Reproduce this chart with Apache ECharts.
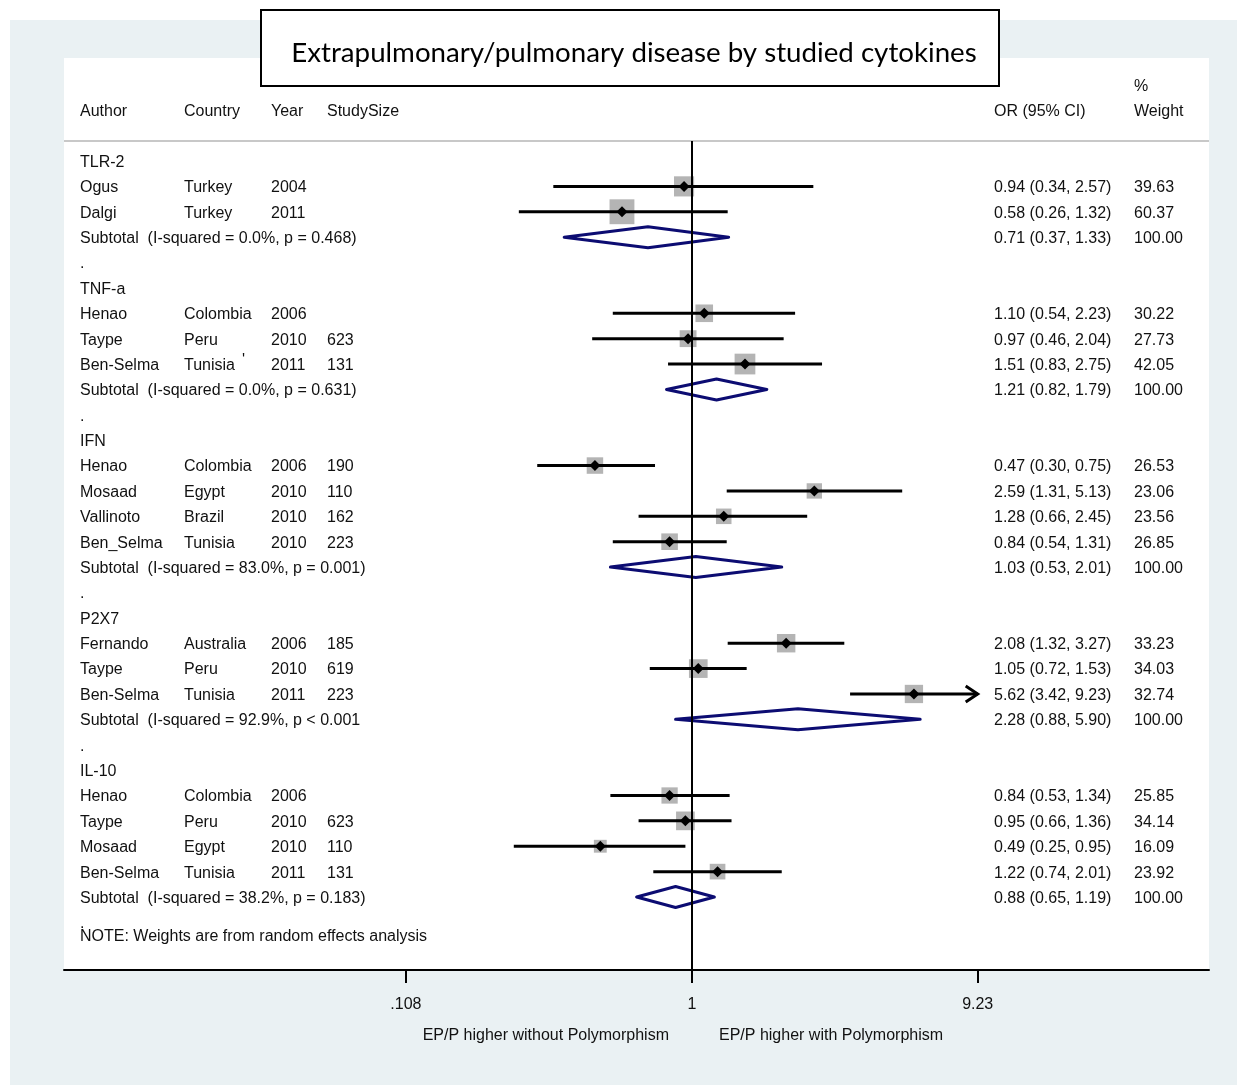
<!DOCTYPE html>
<html>
<head>
<meta charset="utf-8">
<script src="https://cdn.jsdelivr.net/npm/echarts@6/dist/echarts.min.js"></script>
<style>
html,body{margin:0;padding:0;background:#fff;}
#chart{width:1237px;height:1085px;}
</style>
</head>
<body>
<div id="chart"></div>
<script>
// ---------- DATA ----------
const titleText = 'Extrapulmonary/pulmonary disease by studied cytokines';
const groups = ['TLR-2', 'TNF-a', 'IFN', 'P2X7', 'IL-10'];
const authors = ['Ogus','Dalgi','Henao','Taype','Ben-Selma','Henao','Mosaad','Vallinoto','Ben_Selma','Fernando','Taype','Ben-Selma','Henao','Taype','Mosaad','Ben-Selma'];
const studyGroup = [0,0,1,1,1,2,2,2,2,3,3,3,4,4,4,4];
const countries = ['Turkey','Turkey','Colombia','Peru','Tunisia','Colombia','Egypt','Brazil','Tunisia','Australia','Peru','Tunisia','Colombia','Peru','Egypt','Tunisia'];
const years = ['2004','2011','2006','2010','2011','2006','2010','2010','2010','2006','2010','2011','2006','2010','2010','2011'];
const sizes = ['','','','623','131','190','110','162','223','185','619','223','','623','110','131'];
const orVals = [0.94,0.58,1.10,0.97,1.51,0.47,2.59,1.28,0.84,2.08,1.05,5.62,0.84,0.95,0.49,1.22];
const loVals = [0.34,0.26,0.54,0.46,0.83,0.30,1.31,0.66,0.54,1.32,0.72,3.42,0.53,0.66,0.25,0.74];
const hiVals = [2.57,1.32,2.23,2.04,2.75,0.75,5.13,2.45,1.31,3.27,1.53,9.23,1.34,1.36,0.95,2.01];
const weights = [39.63,60.37,30.22,27.73,42.05,26.53,23.06,23.56,26.85,33.23,34.03,32.74,25.85,34.14,16.09,23.92];
const subI2 = ['0.0%','0.0%','83.0%','92.9%','38.2%'];
const subP = ['p = 0.468)','p = 0.631)','p = 0.001)','p < 0.001','p = 0.183)'];
const subOR = [0.71,1.21,1.03,2.28,0.88];
const subLo = [0.37,0.82,0.53,0.88,0.65];
const subHi = [1.33,1.79,2.01,5.90,1.19];
const tickValues = [0.108, 1, 9.23];
const tickLabels = ['.108', '1', '9.23'];
const noteText = 'NOTE: Weights are from random effects analysis';
const leftLabel = 'EP/P higher without Polymorphism';
const rightLabel = 'EP/P higher with Polymorphism';

// ---------- ROWS (kind: 0 group, 1 study, 2 subtotal, 3 dot, 4 note) ----------
const rows = [];
let r = 0;
groups.forEach((g, gi) => {
  rows.push([r++, 0, gi]);
  studyGroup.forEach((sg, si) => { if (sg === gi) rows.push([r++, 1, si]); });
  rows.push([r++, 2, gi]);
  rows.push([r++, 3, 0]);
});
rows.push([r - 0.5, 4, 0]);

const FONT = '"Liberation Sans", Arial, sans-serif';
const FS = 16;
const TXT = '#111';
const NAVY = '#0c0c72';
const BOXC = '#b4b4b4';
const COL = {author: 80, country: 184, year: 271, size: 327, or: 994, wt: 1134};
const TY = 1.5; // text baseline nudge

function txt(x, y, s, align) {
  return {type: 'text', x: x, y: y + TY, style: {text: s, fill: TXT, fontSize: FS, fontFamily: FONT, align: align || 'left', verticalAlign: 'middle'}};
}
function ciText(o, l, h) { return o.toFixed(2) + ' (' + l.toFixed(2) + ', ' + h.toFixed(2) + ')'; }

const maxTick = tickValues[tickValues.length - 1];

function renderItem(params, api) {
  const row = api.value(0), kind = api.value(1), idx = api.value(2);
  const y = api.coord([0, row])[1];
  const X = v => api.coord([Math.log10(v), row])[0];
  const ch = [];
  if (kind === 0) {
    ch.push(txt(COL.author, y, groups[idx]));
  } else if (kind === 3) {
    ch.push(txt(COL.author, y, '.'));
  } else if (kind === 4) {
    ch.push(txt(COL.author, y, noteText));
  } else if (kind === 1) {
    const i = idx;
    ch.push(txt(COL.author, y, authors[i]));
    ch.push(txt(COL.country, y, countries[i]));
    ch.push(txt(COL.year, y, years[i]));
    ch.push(txt(COL.size, y, sizes[i]));
    ch.push(txt(COL.or, y, ciText(orVals[i], loVals[i], hiVals[i])));
    ch.push(txt(COL.wt, y, weights[i].toFixed(2)));
    const xl = X(loVals[i]);
    const trunc = hiVals[i] >= maxTick;
    const xh = X(Math.min(hiVals[i], maxTick));
    const xc = X(orVals[i]);
    const s = 3.2 * Math.sqrt(weights[i]);
    ch.push({type: 'rect', shape: {x: xc - s / 2, y: y - s / 2, width: s, height: s}, style: {fill: BOXC}});
    ch.push({type: 'line', shape: {x1: xl, y1: y, x2: xh, y2: y}, style: {stroke: '#000', lineWidth: 3}});
    if (trunc) {
      ch.push({type: 'polyline', shape: {points: [[xh - 12, y - 8], [xh, y], [xh - 12, y + 8]]}, style: {stroke: '#000', lineWidth: 3, fill: 'none'}});
    }
    const d = 5.5;
    ch.push({type: 'polygon', shape: {points: [[xc - d, y], [xc, y - d], [xc + d, y], [xc, y + d]]}, style: {fill: '#000'}});
  } else if (kind === 2) {
    const g = idx;
    ch.push(txt(COL.author, y, 'Subtotal  (I-squared = ' + subI2[g] + ', ' + subP[g]));
    ch.push(txt(COL.or, y, ciText(subOR[g], subLo[g], subHi[g])));
    ch.push(txt(COL.wt, y, '100.00'));
    const xl = X(subLo[g]), xh = X(subHi[g]), xc = X(subOR[g]);
    const h = 10.5;
    ch.push({type: 'polygon', shape: {points: [[xl, y], [xc, y - h], [xh, y], [xc, y + h]]}, style: {stroke: NAVY, lineWidth: 3, fill: 'none', lineJoin: 'round'}});
  }
  return {type: 'group', children: ch};
}

const tickLog = tickValues.map(v => Math.log10(v));
const pxPerDec = 296;
const xMin = -(692 - 64) / pxPerDec;
const xMax = (1209 - 692) / pxPerDec;

const chart = echarts.init(document.getElementById('chart'), null, {renderer: 'canvas'});
chart.setOption({
  backgroundColor: '#ffffff',
  animation: false,
  grid: {left: 64, right: 28, top: 141, bottom: 115, containLabel: false},
  xAxis: {
    type: 'value', min: xMin, max: xMax,
    axisLine: {show: true, onZero: false, lineStyle: {color: '#000', width: 2}},
    axisTick: {show: true, customValues: tickLog, length: 13, lineStyle: {color: '#000', width: 2}},
    axisLabel: {
      show: true, customValues: tickLog, margin: 27, color: TXT, fontSize: FS, fontFamily: FONT,
      formatter: function (v) {
        let best = 0;
        tickLog.forEach((t, i) => { if (Math.abs(t - v) < Math.abs(tickLog[best] - v)) best = i; });
        return tickLabels[best];
      }
    },
    splitLine: {show: false}
  },
  yAxis: {
    type: 'value', inverse: true, min: -0.788, max: 31.876,
    axisLine: {show: false}, axisTick: {show: false}, axisLabel: {show: false}, splitLine: {show: false}
  },
  graphic: [
    {type: 'rect', z: -10, zlevel: 0, silent: true, shape: {x: 10, y: 20, width: 1227, height: 1065}, style: {fill: '#eaf1f3'}},
    {type: 'rect', z: -9, silent: true, shape: {x: 64, y: 58, width: 1145, height: 912}, style: {fill: '#ffffff'}},
    {type: 'line', z: -8, silent: true, shape: {x1: 64, y1: 141, x2: 1209, y2: 141}, style: {stroke: '#c8c8c8', lineWidth: 2}},
    {type: 'rect', z: 50, silent: true, shape: {x: 261, y: 10, width: 738, height: 76}, style: {fill: '#fff', stroke: '#000', lineWidth: 2}},
    {type: 'text', z: 51, x: 634, y: 53, style: {text: titleText, fontSize: 27.7, fontFamily: 'Lato, "Open Sans", sans-serif', fill: '#000', align: 'center', verticalAlign: 'middle'}},
    {type: 'text', x: COL.author, y: 111.5, style: {text: 'Author', fontSize: FS, fontFamily: FONT, fill: TXT, verticalAlign: 'middle'}},
    {type: 'text', x: COL.country, y: 111.5, style: {text: 'Country', fontSize: FS, fontFamily: FONT, fill: TXT, verticalAlign: 'middle'}},
    {type: 'text', x: COL.year, y: 111.5, style: {text: 'Year', fontSize: FS, fontFamily: FONT, fill: TXT, verticalAlign: 'middle'}},
    {type: 'text', x: COL.size, y: 111.5, style: {text: 'StudySize', fontSize: FS, fontFamily: FONT, fill: TXT, verticalAlign: 'middle'}},
    {type: 'text', x: COL.or, y: 111.5, style: {text: 'OR (95% CI)', fontSize: FS, fontFamily: FONT, fill: TXT, verticalAlign: 'middle'}},
    {type: 'text', x: COL.wt, y: 87, style: {text: '%', fontSize: FS, fontFamily: FONT, fill: TXT, verticalAlign: 'middle'}},
    {type: 'text', x: COL.wt, y: 111.5, style: {text: 'Weight', fontSize: FS, fontFamily: FONT, fill: TXT, verticalAlign: 'middle'}},
    {type: 'text', x: 669, y: 1036, style: {text: leftLabel, fontSize: FS, fontFamily: FONT, fill: TXT, align: 'right', verticalAlign: 'middle'}},
    {type: 'text', x: 719, y: 1036, style: {text: rightLabel, fontSize: FS, fontFamily: FONT, fill: TXT, align: 'left', verticalAlign: 'middle'}},
    {type: 'text', x: 242, y: 361, style: {text: "'", fontSize: FS, fontFamily: FONT, fill: TXT, verticalAlign: 'middle'}}
  ],
  series: [{
    type: 'custom',
    renderItem: renderItem,
    data: rows,
    encode: {x: 2, y: 0},
    clip: false,
    markLine: {
      silent: true, symbol: ['none', 'none'], label: {show: false},
      lineStyle: {color: '#000', width: 2, type: 'solid'},
      data: [{xAxis: 0}]
    }
  }]
});
</script>
</body>
</html>
